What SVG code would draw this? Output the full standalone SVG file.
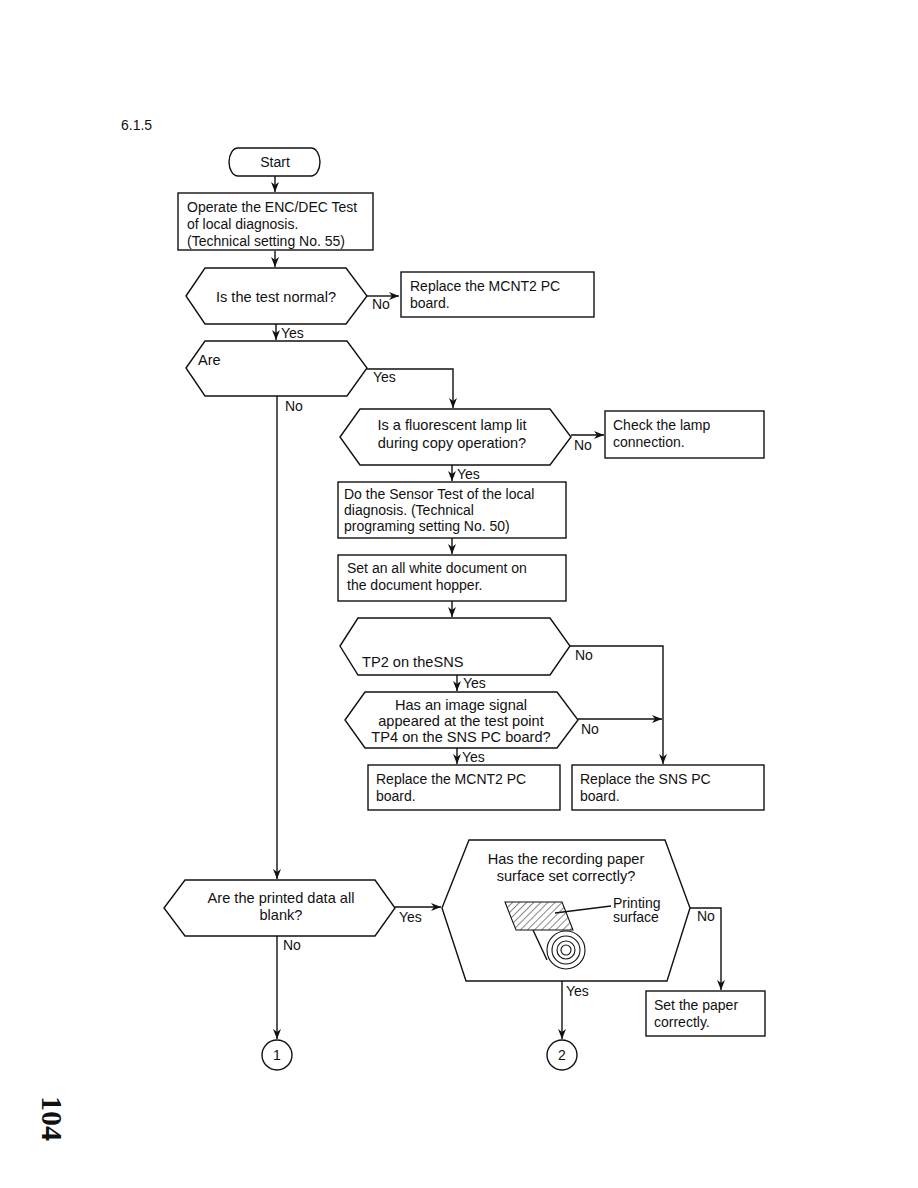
<svg xmlns="http://www.w3.org/2000/svg" width="918" height="1188" viewBox="0 0 918 1188">
<style>
.s{fill:#fff;stroke:#111;stroke-width:1.4}
.t{font-family:"Liberation Sans",Arial,sans-serif;font-size:14px;fill:#111}
.q{font-size:14.6px}
.c{text-anchor:middle}
.l{fill:none;stroke:#111;stroke-width:1.4}
</style>
<defs>
<marker id="a" viewBox="0 0 10 8" refX="10" refY="4" markerWidth="10" markerHeight="8" markerUnits="userSpaceOnUse" orient="auto">
<path d="M0,0 L10,4 L0,8 L3,4 Z" fill="#111"/>
</marker>
<pattern id="h" width="5" height="5" patternUnits="userSpaceOnUse" patternTransform="rotate(45)">
<line x1="0" y1="0" x2="0" y2="5" stroke="#111" stroke-width="1"/>
</pattern>
</defs>
<rect width="918" height="1188" fill="#fff"/>
<text class="t" x="121" y="130">6.1.5</text>
<text x="0" y="0" transform="translate(42,1096) rotate(90)" font-family="'Liberation Serif',serif" font-size="30" font-weight="bold" fill="#111">104</text>

<g id="connectors">
<path class="l" d="M275,176 V192" marker-end="url(#a)"/>
<path class="l" d="M275,251 V267" marker-end="url(#a)"/>
<path class="l" d="M367,296 H399" marker-end="url(#a)"/>
<path class="l" d="M276,324 V340" marker-end="url(#a)"/>
<path class="l" d="M367,369 H453 V408" marker-end="url(#a)"/>
<path class="l" d="M277,396 V879" marker-end="url(#a)"/>
<path class="l" d="M571,435 H604" marker-end="url(#a)"/>
<path class="l" d="M452,465 V481" marker-end="url(#a)"/>
<path class="l" d="M452,538 V554" marker-end="url(#a)"/>
<path class="l" d="M452,601 V617" marker-end="url(#a)"/>
<path class="l" d="M570,646 H663 V764" marker-end="url(#a)"/>
<path class="l" d="M457,675 V691" marker-end="url(#a)"/>
<path class="l" d="M578,719 H662" marker-end="url(#a)"/>
<path class="l" d="M457,748 V764" marker-end="url(#a)"/>
<path class="l" d="M395,907 H441" marker-end="url(#a)"/>
<path class="l" d="M690,908 H721 V990" marker-end="url(#a)"/>
<path class="l" d="M562,981 V1039" marker-end="url(#a)"/>
<path class="l" d="M277,936 V1039" marker-end="url(#a)"/>
<text class="t" x="372" y="309">No</text>
<text class="t" x="281" y="338">Yes</text>
<text class="t" x="373" y="382">Yes</text>
<text class="t" x="285" y="411">No</text>
<text class="t" x="574" y="450">No</text>
<text class="t" x="457" y="479">Yes</text>
<text class="t" x="575" y="660">No</text>
<text class="t" x="463" y="688">Yes</text>
<text class="t" x="581" y="734">No</text>
<text class="t" x="462" y="762">Yes</text>
<text class="t" x="399" y="922">Yes</text>
<text class="t" x="283" y="950">No</text>
<text class="t" x="697" y="921">No</text>
<text class="t" x="566" y="996">Yes</text>
</g>

<g id="start">
<path class="s" d="M238,148 H311 A9,14 0 0 1 311,176 H238 A9,14 0 0 1 238,148 Z"/>
<text class="t c" x="275" y="167">Start</text>
</g>

<g id="op-encdec">
<rect class="s" x="178" y="193" width="195" height="57"/>
<text class="t" x="187" y="212">Operate the ENC/DEC Test</text>
<text class="t" x="187" y="229">of local diagnosis.</text>
<text class="t" x="187" y="246">(Technical setting No. 55)</text>
</g>

<g id="q-test-normal">
<polygon class="s" points="186,296 205,268 346,268 367,296 346,324 205,324"/>
<text class="t q c" x="276" y="302">Is the test normal?</text>
</g>

<g id="replace-mcnt2-a">
<rect class="s" x="401" y="272" width="193" height="45"/>
<text class="t" x="410" y="291">Replace the MCNT2  PC</text>
<text class="t" x="410" y="308">board.</text>
</g>

<g id="q-are">
<polygon class="s" points="186,368 205,341 347,341 367,368 347,396 205,396"/>
<text class="t q" x="198" y="365">Are</text>
</g>

<g id="q-lamp">
<polygon class="s" points="340,437 360,409 550,409 571,437 550,465 360,465"/>
<text class="t q c" x="452" y="430">Is a fluorescent lamp lit</text>
<text class="t q c" x="452" y="448">during copy operation?</text>
</g>

<g id="check-lamp">
<rect class="s" x="605" y="411" width="159" height="47"/>
<text class="t" x="613" y="430">Check the lamp</text>
<text class="t" x="613" y="447">connection.</text>
</g>

<g id="sensor-test">
<rect class="s" x="338" y="482" width="228" height="56"/>
<text class="t" x="344" y="499">Do the Sensor Test of the local</text>
<text class="t" x="344" y="515">diagnosis.  (Technical</text>
<text class="t" x="344" y="531">programing setting No. 50)</text>
</g>

<g id="set-white">
<rect class="s" x="338" y="555" width="228" height="46"/>
<text class="t" x="347" y="573">Set an all white document on</text>
<text class="t" x="347" y="590">the document hopper.</text>
</g>

<g id="q-tp2">
<polygon class="s" points="340,646 358,618 550,618 570,646 550,675 358,675"/>
<text class="t q" x="362" y="667">TP2 on theSNS</text>
</g>

<g id="q-tp4">
<polygon class="s" points="345,720 365,692 557,692 578,720 557,748 365,748"/>
<text class="t q c" x="461" y="710">Has an image signal</text>
<text class="t q c" x="461" y="726">appeared at the test point</text>
<text class="t q c" x="461" y="742">TP4 on the  SNS  PC  board?</text>
</g>

<g id="replace-mcnt2-b">
<rect class="s" x="368" y="765" width="192" height="45"/>
<text class="t" x="376" y="784">Replace the  MCNT2  PC</text>
<text class="t" x="376" y="801">board.</text>
</g>

<g id="replace-sns">
<rect class="s" x="572" y="765" width="192" height="45"/>
<text class="t" x="580" y="784">Replace the  SNS  PC</text>
<text class="t" x="580" y="801">board.</text>
</g>

<g id="q-blank">
<polygon class="s" points="164,908 185,880 375,880 395,908 375,936 185,936"/>
<text class="t q c" x="281" y="903">Are the printed data all</text>
<text class="t q c" x="281" y="920">blank?</text>
</g>

<g id="q-paper">
<polygon class="s" points="442,908 469,840 665,840 690,908 667,981 466,981"/>
<text class="t q c" x="566" y="864">Has the recording paper</text>
<text class="t q c" x="566" y="881">surface set correctly?</text>
<path d="M533,930 L547,960" class="l" stroke-width="1.1"/>
<circle cx="566" cy="950" r="19" fill="#fff" stroke="#111" stroke-width="1.1"/>
<circle cx="566" cy="950" r="14" fill="none" stroke="#111" stroke-width="1.1"/>
<circle cx="566" cy="950" r="9" fill="none" stroke="#111" stroke-width="1.1"/>
<circle cx="566" cy="950" r="5" fill="none" stroke="#111" stroke-width="1.1"/>
<polygon points="505,902 562,902 573,930 516,930" fill="url(#h)" stroke="#111" stroke-width="1.1"/>
<path d="M555,913 L611,906" class="l" stroke-width="1.1"/>
<text class="t" x="613" y="908" font-size="13">Printing</text>
<text class="t" x="613" y="922" font-size="13">surface</text>
</g>

<g id="set-paper">
<rect class="s" x="646" y="991" width="119" height="45"/>
<text class="t" x="654" y="1010">Set the paper</text>
<text class="t" x="654" y="1027">correctly.</text>
</g>

<g id="conn-1">
<circle class="s" cx="277" cy="1055" r="15"/>
<text class="t c" x="277" y="1060" font-size="12">1</text>
</g>

<g id="conn-2">
<circle class="s" cx="562" cy="1055" r="15"/>
<text class="t c" x="562" y="1060" font-size="12">2</text>
</g>
</svg>
